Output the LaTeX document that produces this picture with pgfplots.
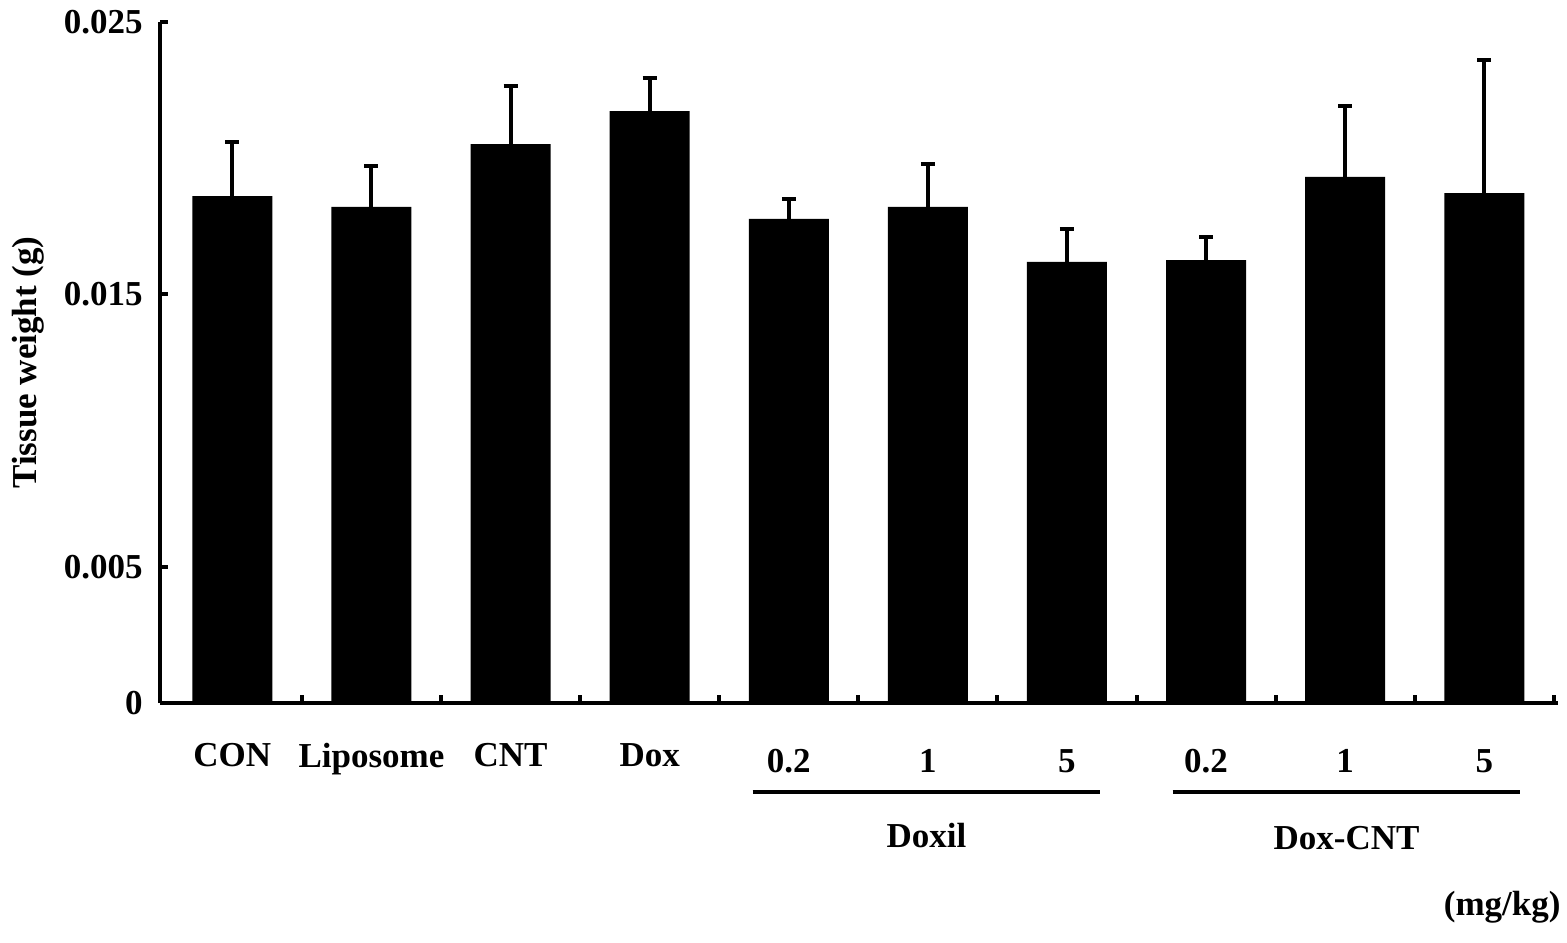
\documentclass[border=0pt]{standalone}
\usepackage{fontspec}
\setmainfont{Liberation Serif}
\usepackage{pgfplots}
\usepackage{pgfplotstable}
\pgfplotsset{compat=1.18}
\pgfplotstableread{
x y err
0 0.01861 0.00198
1 0.01821 0.00150
2 0.02052 0.00213
3 0.02173 0.00121
4 0.01777 0.00073
5 0.01821 0.00158
6 0.01619 0.00121
7 0.01626 0.00085
8 0.01931 0.00261
9 0.01872 0.00488
}\datatable
\begin{document}
\fontsize{17.5}{21}\selectfont\bfseries
\begin{tikzpicture}
\path[use as bounding box] (0,0) rectangle (783.5pt,471pt);
\begin{axis}[
  at={(80pt,119.5pt)}, anchor=south west,
  scale only axis, width=699pt, height=340.5pt,
  xmin=-0.52, xmax=9.53, ymin=0, ymax=0.025,
  axis x line*=bottom, axis y line*=left,
  axis line style={line width=2pt},
  clip=false,
  scaled y ticks=false,
  ytick={0,0.005,0.015,0.025},
  yticklabels={0,0.005,0.015,0.025},
  yticklabel style={xshift=-2.7pt},
  xtick={0.5,1.5,...,9.5}, xticklabels={},
  extra x ticks={0,...,9},
  extra x tick labels={CON,Liposome,CNT,Dox,\raisebox{-3pt}[\height][0pt]{0.2},\raisebox{-3pt}[\height][0pt]{1},\raisebox{-3pt}[\height][0pt]{5},\raisebox{-3pt}[\height][0pt]{0.2},\raisebox{-3pt}[\height][0pt]{1},\raisebox{-3pt}[\height][0pt]{5}},
  extra x tick style={major tick length=0pt, tick label style={anchor=north, yshift=-14.2pt}},
  major tick length=4pt,
  tick style={line width=2pt, black},
  tick align=inside,
  every tick label/.append style={font=\fontsize{17.5}{21}\selectfont\bfseries},
  ylabel={Tissue weight (g)},
  ylabel style={at={(axis description cs:-0.0944,0.5)}, anchor=center, font=\fontsize{17.5}{21}\selectfont\bfseries},
]
\addplot[ybar, bar width=40pt, fill=black, draw=none,
  error bars/.cd, y dir=plus, y explicit,
  error bar style={line width=2pt, black},
  error mark options={rotate=90, line width=2pt, mark size=3.5pt, black}]
  table[x=x, y=y, y error=err] {\datatable};
\draw[line width=2pt] (axis cs:3.74,-0.003267) -- (axis cs:6.24,-0.003267);
\draw[line width=2pt] (axis cs:6.76,-0.003267) -- (axis cs:9.26,-0.003267);
\node at (axis cs:4.99,-0.00488) {Doxil};
\node at (axis cs:8.01,-0.00495) {Dox-CNT};
\node[anchor=east] at (axis cs:9.635,-0.00749) {(mg/kg)};
\end{axis}
\end{tikzpicture}
\end{document}
